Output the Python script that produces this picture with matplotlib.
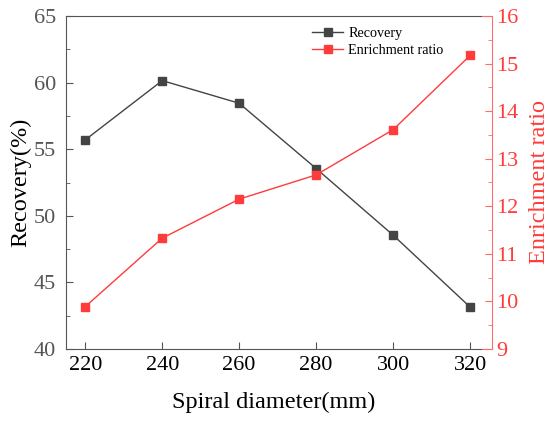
import matplotlib.pyplot as plt
from matplotlib.lines import Line2D
from matplotlib.ticker import MultipleLocator

# Data
diameter = [220, 240, 260, 280, 300, 320]
recovery = [55.7, 60.15, 58.45, 53.55, 48.55, 43.15]
enrichment = [9.89, 11.33, 12.15, 12.66, 13.61, 15.17]

plt.rcParams['font.family'] = ['Liberation Serif', 'DejaVu Serif']
grey = '#444444'
red = '#ff3b3b'
W, H = 550, 421

fig = plt.figure(figsize=(5.5, 4.21), dpi=100)
# axes box in pixels: left 66, right 482, top 16, bottom 349
ax = fig.add_axes([66 / W, 1 - 349 / H, (482 - 66) / W, (349 - 16) / H])
ax2 = ax.twinx()

l1, = ax.plot(diameter, recovery, color=grey, marker='s', ms=5.5, lw=1, label='Recovery')
l2, = ax2.plot(diameter, enrichment, color=red, marker='s', ms=5.5, lw=1, label='Enrichment ratio')

ax.set_xlim(215, 323.1)
ax.set_ylim(40, 65)
ax2.set_ylim(9, 16)
ax.set_xticks(diameter)
ax.yaxis.set_major_locator(MultipleLocator(5))
ax.yaxis.set_minor_locator(MultipleLocator(2.5))
ax2.yaxis.set_major_locator(MultipleLocator(1))
ax2.yaxis.set_minor_locator(MultipleLocator(0.5))

ax.tick_params(axis='both', which='both', direction='in', labelsize=16, colors='#555555')
ax.tick_params(axis='x', length=5, pad=5, labelcolor='black')
ax.tick_params(axis='y', which='major', length=5, pad=7)
ax.tick_params(axis='y', which='minor', length=3)
ax2.spines['right'].set_position(('outward', 7))
ax2.tick_params(axis='y', which='both', direction='in', colors='#ff6b6b', labelcolor=red, labelsize=16)
ax2.tick_params(axis='y', which='major', length=5, pad=3)
ax2.tick_params(axis='y', which='minor', length=3)
ax2.spines['right'].set_color('#ff6b6b')
ax.spines['right'].set_visible(False)
for s in ['left', 'bottom', 'top']:
    ax.spines[s].set_color('#555555')
    ax2.spines[s].set_visible(False)

# short red connectors between box and offset right spine
for yp in (16, 349):
    fig.add_artist(Line2D([482 / W, 489 / W], [1 - yp / H, 1 - yp / H],
                          color='#ff6b6b', lw=0.8, transform=fig.transFigure))

ax.set_xlabel('Spiral diameter(mm)', fontsize=17.5, labelpad=12)
ax.set_ylabel('Recovery(%)', fontsize=17.5, color='black', labelpad=2)
ax2.set_ylabel('Enrichment ratio', fontsize=17.5, color=red, labelpad=8)

fig.legend(handles=[l1, l2], loc='upper left', bbox_to_anchor=(312 / W, 1 - 27 / H),
           frameon=False, fontsize=10.2, handlelength=2.2, handletextpad=0.35,
           labelspacing=0.3, borderpad=0, borderaxespad=0)

fig.savefig('out.png', dpi=100)
